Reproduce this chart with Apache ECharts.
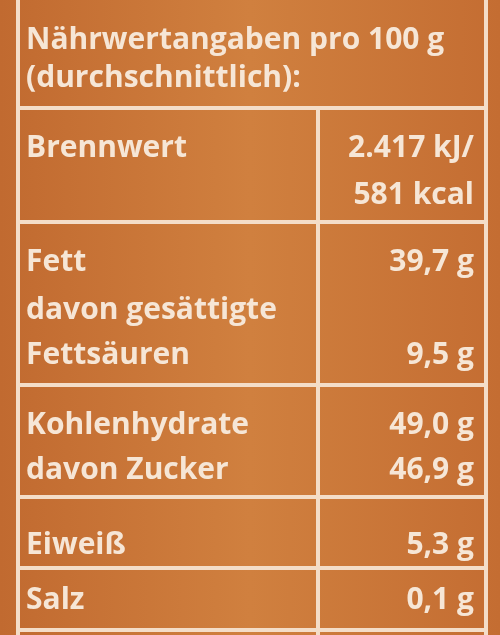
<!DOCTYPE html>
<html><head><meta charset="utf-8">
<script src="https://cdn.jsdelivr.net/npm/echarts@6/dist/echarts.min.js"></script>
<style>html,body{margin:0;padding:0;background:#c8743a}#c{width:500px;height:635px}</style>
</head><body><div id="c"></div>
<script>
var headerLines = ["Nährwertangaben pro 100 g", "(durchschnittlich):"];
var labels = ["Brennwert", "", "Fett", "davon gesättigte", "Fettsäuren", "Kohlenhydrate", "davon Zucker", "Eiweiß", "Salz"];
var values = ["2.417 kJ/", "581 kcal", "39,7 g", "", "9,5 g", "49,0 g", "46,9 g", "5,3 g", "0,1 g"];
var rowY = [148, 195, 262, 310, 355, 425, 470, 545, 600];
var dividerY = [108, 222, 385, 497, 568, 630];

var chart = echarts.init(document.getElementById('c'));
var txt = '#f6e6d6', line = '#f4ddc8';
var font = 'bold 30px "Open Sans", sans-serif';
var g = [];
g.push({type:'rect', shape:{x:0,y:0,width:500,height:635}, style:{fill:new echarts.graphic.LinearGradient(0,0,1,0,[{offset:0,color:'#c16a30'},{offset:0.5,color:'#d0803f'},{offset:1,color:'#c46d32'}])}});
headerLines.forEach(function(t,i){
  g.push({type:'text', x:26, y:40+i*38, style:{text:t, font:font, fill:txt, verticalAlign:'middle'}});
});
dividerY.forEach(function(y){
  g.push({type:'line', shape:{x1:18,y1:y,x2:486,y2:y}, style:{stroke:line, lineWidth:4}});
});
g.push({type:'line', shape:{x1:18,y1:0,x2:18,y2:635}, style:{stroke:line, lineWidth:4}});
g.push({type:'line', shape:{x1:486,y1:0,x2:486,y2:635}, style:{stroke:line, lineWidth:4}});
g.push({type:'line', shape:{x1:318,y1:108,x2:318,y2:635}, style:{stroke:line, lineWidth:4}});
labels.forEach(function(t,i){
  if(t) g.push({type:'text', x:26, y:rowY[i], style:{text:t, font:font, fill:txt, verticalAlign:'middle'}});
  if(values[i]) g.push({type:'text', x:474, y:rowY[i], style:{text:values[i], font:font, fill:txt, align:'right', verticalAlign:'middle'}});
});
chart.setOption({animation:false, graphic:{elements:g}});
</script></body></html>
